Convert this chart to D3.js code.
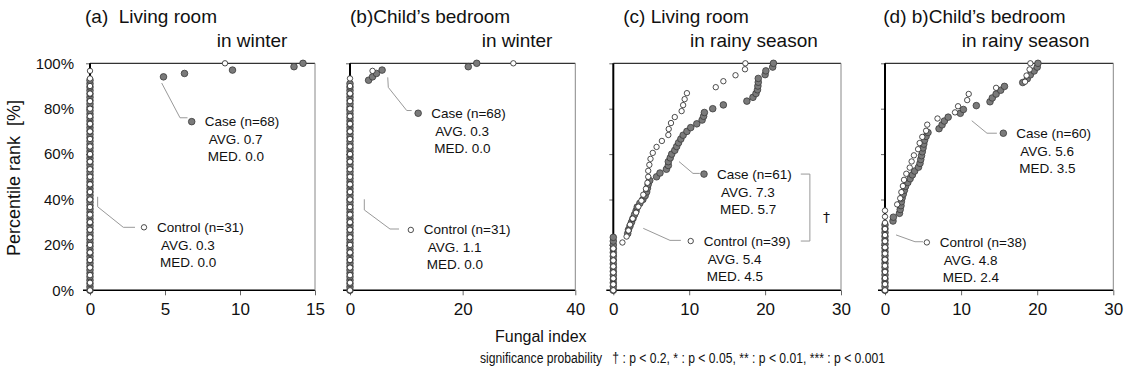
<!DOCTYPE html>
<html>
<head>
<meta charset="utf-8">
<script src="https://cdn.jsdelivr.net/npm/d3@7"></script>
<style>
  body { margin: 0; background: #fff; }
  svg { font-family: "Liberation Sans", Arial, sans-serif; }
</style>
</head>
<body>
<svg id="chart" width="1127" height="381"></svg>
<script>
// fungal index, sorted ascending, one value per home
const caseA = [
  0,0,0,0,0,0,0,0,0,0, 0,0,0,0,0,0,0,0,0,0, 0,0,0,0,0,0,0,0,0,0,
  0,0,0,0,0,0,0,0,0,0, 0,0,0,0,0,0,0,0,0,0, 0,0,0,0,0,0,0,0,0,0,
  0,0,0,
  4.9, 6.3, 9.5, 13.6, 14.2];
const ctrlA = [
  0,0,0,0,0,0,0,0,0,0, 0,0,0,0,0,0,0,0,0,0, 0,0,0,0,0,0,0,0,0,0,
  9.0];
const caseB = [
  0,0,0,0,0,0,0,0,0,0, 0,0,0,0,0,0,0,0,0,0, 0,0,0,0,0,0,0,0,0,0,
  0,0,0,0,0,0,0,0,0,0, 0,0,0,0,0,0,0,0,0,0, 0,0,0,0,0,0,0,0,0,0,
  0,0,
  3.3, 4.0, 4.7, 5.7, 21.0, 22.5];
const ctrlB = [
  0,0,0,0,0,0,0,0,0,0, 0,0,0,0,0,0,0,0,0,0, 0,0,0,0,0,0,0,0,0,
  4.0, 29.0];
const caseC = [
  0,0,0,0,0,0,0,0,0,0, 0,0,0,0,0,
  1.9, 2.0, 2.2, 2.4, 2.6, 2.8, 3.0, 3.15, 3.5, 3.9,
  4.2, 4.4, 4.5, 4.6, 4.8, 5.7, 6.15, 7.0, 7.25, 7.25,
  7.5, 7.7, 8.1, 8.35, 8.6, 8.9, 9.2, 9.7, 10.2, 11.0,
  11.7, 11.9, 12.0, 13.1, 14.5, 17.6, 18.4, 18.8, 19.0, 19.05,
  19.1, 19.1, 20.0, 20.1, 21.0, 21.1];
const ctrlC = [
  0,0,0,0,0,0,0,0,
  1.2, 1.75, 2.0, 2.2, 2.55, 3.0, 3.3, 3.7, 3.95, 4.3,
  4.5, 4.6, 4.6, 4.75, 4.9, 5.2, 5.7, 6.4, 7.25, 7.3,
  7.6, 8.1, 9.0, 9.2, 9.4, 9.7, 13.5, 14.5, 16.1, 17.35,
  17.4];
const caseD = [
  0,0,0,0,0,0,0,0,0,0, 0,0,0,0,0,0,0,0,
  1.05, 1.1, 1.9, 2.0, 2.1, 2.15, 2.25, 2.4, 2.55, 2.7,
  3.0, 3.3, 3.6, 3.9, 4.4, 4.6, 4.7, 4.8, 4.9, 5.0,
  5.1, 5.2, 5.4, 5.65, 7.1, 7.5, 7.8, 8.3, 9.9, 10.3,
  12.0, 13.8, 14.1, 14.6, 15.2, 15.7, 18.1, 18.7, 19.1, 19.6,
  20.0, 20.1];
const ctrlD = [
  0,0,0,0,0,0,0,0,0,0, 0,0,0,0,
  1.6, 2.0, 2.15, 2.35, 2.5, 2.8, 3.25, 3.5, 3.8, 4.35,
  4.55, 4.9, 5.4, 5.55, 6.9, 9.2, 9.6, 10.8, 11.0, 14.6,
  18.4, 18.6, 19.0, 19.1];

const titles1 = ["(a)  Living room", "(b)Child\u2019s bedroom", "(c) Living room", "(d) b)Child\u2019s bedroom"];
const titles2 = ["in winter", "in winter", "in rainy season", "in rainy season"];
const xMaxes = [15, 40, 30, 30];
const xTickSets = [[0, 5, 10, 15], [0, 20, 40], [0, 10, 20, 30], [0, 10, 20, 30]];
const yTicks = [0, 20, 40, 60, 80, 100];
const avgCase = ["0.7", "0.3", "7.3", "5.6"];
const medCase = ["0.0", "0.0", "5.7", "3.5"];
const avgCtrl = ["0.3", "1.1", "5.4", "4.8"];
const medCtrl = ["0.0", "0.0", "4.5", "2.4"];

// callouts in data units: marker [x, pct] and leader polyline
const caseNotes = [
  { m: [6.78, 74.3], l: [[4.78, 91.3], [6.0, 76.0], [6.5, 76.0]] },
  { m: [12.1, 78.0], l: [[6.7, 93.8], [6.8, 89.4], [10.07, 79.2], [10.95, 79.2]] },
  { m: [11.95, 51.2], l: [[8.66, 56.7], [10.5, 51.5], [11.4, 51.5]] },
  { m: [15.55, 69.2], l: [[11.4, 74.7], [13.4, 69.2], [14.7, 69.2]] }
];
const ctrlNotes = [
  { m: [3.6, 27.75], l: [[0.51, 41.2], [0.51, 36.8], [2.22, 27.75], [3.0, 27.75]] },
  { m: [10.8, 26.6], l: [[2.54, 40.1], [2.54, 35.4], [7.1, 27.0], [8.7, 27.0]] },
  { m: [10.2, 21.7], l: [[3.95, 27.3], [7.47, 22.0], [8.9, 22.0]] },
  { m: [5.5, 21.1], l: [[1.45, 24.4], [3.94, 21.4], [5.0, 21.4]] }
];

const panelLeft = [90, 350, 613.3, 885];
const panelRight = [315, 575.3, 841, 1113.3];
const title1X = [85, 350, 623.3, 883.3];
const title2X = [216.7, 481.7, 690, 961.7];
const caseSets = [caseA, caseB, caseC, caseD];
const ctrlSets = [ctrlA, ctrlB, ctrlC, ctrlD];

const svg = d3.select("#chart");
const yTop = 63.3, yBot = 290.3;
const y = d3.scaleLinear().domain([0, 100]).range([yBot, yTop]);
const rCase = 3.3, rCtrl = 2.7;

// percentile rank of each sorted value
function ranks(vals) {
  const n = vals.length;
  return vals.map((v, i) => ({ v: v, p: i / (n - 1) * 100 }));
}

function drawMarker(g, cx, cy, isCase) {
  g.append("circle")
    .attr("cx", cx).attr("cy", cy)
    .attr("r", isCase ? rCase : rCtrl)
    .attr("fill", isCase ? "#7a7a7a" : "#fff")
    .attr("stroke", isCase ? "#3a3a3a" : "#222")
    .attr("stroke-width", 0.8);
}

function drawNote(g, x, note, isCase, n, avg, med) {
  const line = d3.line().x(d => x(d[0])).y(d => y(d[1]));
  g.append("path").attr("d", line(note.l))
    .attr("fill", "none").attr("stroke", "#999").attr("stroke-width", 1);
  const mx = x(note.m[0]), my = y(note.m[1]);
  drawMarker(g, mx, my, isCase);
  const rows = [
    [(isCase ? "Case" : "Control") + " (n=" + n + ")", 13, 0],
    ["AVG. " + avg, 17, 18],
    ["MED. " + med, 16, 35]
  ];
  rows.forEach(r => {
    g.append("text").attr("x", mx + r[1]).attr("y", my + r[2])
      .attr("dominant-baseline", "central")
      .attr("font-size", 13.5).attr("fill", "#111").text(r[0]);
  });
}

for (let k = 0; k < 4; k++) {
  const x = d3.scaleLinear().domain([0, xMaxes[k]]).range([panelLeft[k], panelRight[k]]);
  const g = svg.append("g");

  // titles
  g.append("text").attr("x", title1X[k]).attr("y", 23)
    .attr("font-size", 19).attr("fill", "#111").attr("xml:space", "preserve")
    .style("white-space", "pre").text(titles1[k]);
  g.append("text").attr("x", title2X[k]).attr("y", 47)
    .attr("font-size", 19).attr("fill", "#111").text(titles2[k]);

  // axes
  const xa = g.append("g").attr("transform", "translate(0," + yBot + ")")
    .call(d3.axisBottom(x).tickValues(xTickSets[k]).tickSize(5).tickPadding(8).tickSizeOuter(0));
  xa.select(".domain").remove();
  xa.selectAll("line").attr("stroke", "#666");
  xa.selectAll("text").attr("font-size", 17).attr("fill", "#111")
    .attr("font-family", "Liberation Sans, Arial, sans-serif");

  const ya = g.append("g").attr("transform", "translate(" + x(0) + ",0)")
    .call(d3.axisLeft(y).tickValues(yTicks).tickSize(4).tickPadding(12).tickSizeOuter(0)
      .tickFormat(k === 0 ? (d => d + "%") : (() => "")));
  ya.select(".domain").remove();
  ya.selectAll("line").attr("stroke", "#666");
  ya.selectAll("text").attr("font-size", 15).attr("fill", "#111")
    .attr("font-family", "Liberation Sans, Arial, sans-serif");

  // frame
  g.append("line").attr("x1", x(0) - 7).attr("x2", x(xMaxes[k])).attr("y1", yBot).attr("y2", yBot)
    .attr("stroke", "#000").attr("stroke-width", 1.6);
  g.append("line").attr("x1", x(0)).attr("x2", x(xMaxes[k])).attr("y1", yTop).attr("y2", yTop)
    .attr("stroke", "#333").attr("stroke-width", 1.2);
  g.append("line").attr("x1", x(xMaxes[k])).attr("x2", x(xMaxes[k])).attr("y1", yTop).attr("y2", yBot)
    .attr("stroke", "#888").attr("stroke-width", 1);
  g.append("line").attr("x1", x(0)).attr("x2", x(0)).attr("y1", yTop).attr("y2", yBot)
    .attr("stroke", "#000").attr("stroke-width", 2);

  // points: case first, control on top
  g.selectAll(".case").data(ranks(caseSets[k])).enter().append("circle")
    .attr("class", "case")
    .attr("cx", d => x(d.v)).attr("cy", d => y(d.p)).attr("r", rCase)
    .attr("fill", "#7a7a7a").attr("stroke", "#3a3a3a").attr("stroke-width", 0.8);
  g.selectAll(".ctrl").data(ranks(ctrlSets[k])).enter().append("circle")
    .attr("class", "ctrl")
    .attr("cx", d => x(d.v)).attr("cy", d => y(d.p)).attr("r", rCtrl)
    .attr("fill", "#fff").attr("stroke", "#222").attr("stroke-width", 0.8);

  // callouts
  drawNote(g, x, caseNotes[k], true, caseSets[k].length, avgCase[k], medCase[k]);
  drawNote(g, x, ctrlNotes[k], false, ctrlSets[k].length, avgCtrl[k], medCtrl[k]);

  // significance bracket in (c)
  if (k === 2) {
    const bx1 = x(24.7), bx2 = x(25.9);
    const b1 = y(caseNotes[k].m[1]), b2 = y(ctrlNotes[k].m[1]);
    g.append("path")
      .attr("d", "M" + bx1 + "," + b1 + "H" + bx2 + "V" + b2 + "H" + bx1)
      .attr("fill", "none").attr("stroke", "#999").attr("stroke-width", 1);
    g.append("text").attr("x", x(28.1)).attr("y", y(32.4))
      .attr("text-anchor", "middle").attr("dominant-baseline", "central")
      .attr("font-family", "DejaVu Sans, sans-serif")
      .attr("font-size", 14).attr("fill", "#111").text("\u2020");
  }
}

// shared labels
svg.append("text").attr("transform", "translate(20,178) rotate(-90)")
  .attr("text-anchor", "middle").attr("font-size", 18).attr("fill", "#111")
  .style("white-space", "pre")
  .text("Percentile rank  [%]");
svg.append("text").attr("x", 495).attr("y", 342)
  .attr("font-size", 16).attr("fill", "#111").text("Fungal index");
svg.append("text").attr("x", 480).attr("y", 363)
  .attr("font-size", 14).attr("fill", "#111")
  .attr("textLength", 405).attr("lengthAdjust", "spacingAndGlyphs")
  .style("white-space", "pre")
  .text("significance probability   \u2020 : p < 0.2, * : p < 0.05, ** : p < 0.01, *** : p < 0.001");
</script>
</body>
</html>
